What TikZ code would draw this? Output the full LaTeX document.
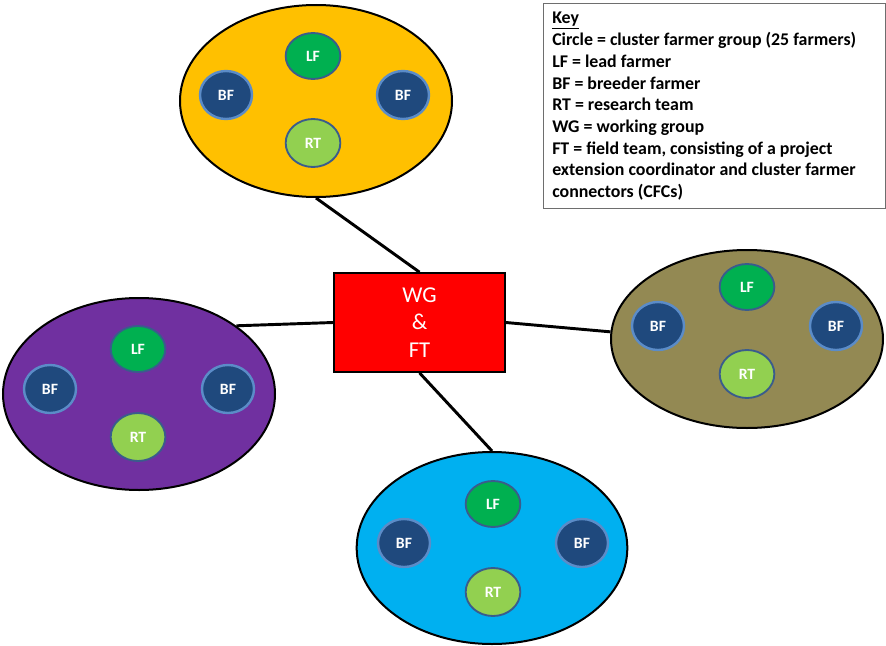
\documentclass[tikz,border=0pt]{standalone}
\usepackage{fontspec}
\setmainfont{Carlito}
\usetikzlibrary{shapes.geometric}

\definecolor{grpYellow}{HTML}{FFC000}
\definecolor{grpPurple}{HTML}{7030A0}
\definecolor{grpOlive}{HTML}{938953}
\definecolor{grpBlue}{HTML}{00B0F0}
\definecolor{hubRed}{HTML}{FF0000}
\definecolor{lfGreen}{HTML}{00B050}
\definecolor{rtGreen}{HTML}{92D050}
\definecolor{bfBlue}{HTML}{1F497D}
\definecolor{bfRim}{HTML}{5B8CC8}
\definecolor{memRim}{HTML}{3A5C8C}
\definecolor{keyRim}{HTML}{6E6E6E}

\begin{document}
\begin{tikzpicture}[x=0.75pt,y=-0.75pt,
  group/.style={ellipse, draw=black, line width=1.5pt, inner sep=0pt,
    minimum width=204pt, minimum height=144pt},
  member/.style={ellipse, inner sep=0pt, text=white,
    font=\fontsize{11.8pt}{13pt}\selectfont\bfseries},
  lead/.style={member, fill=lfGreen, draw=memRim, line width=1.4pt,
    minimum width=41pt, minimum height=34.5pt},
  breeder/.style={member, fill=bfBlue, draw=bfRim, line width=1.8pt,
    minimum width=39pt, minimum height=36pt},
  research/.style={member, fill=rtGreen, draw=memRim, line width=1.4pt,
    minimum width=41pt, minimum height=36pt},
  link/.style={draw=black, line width=2.2pt}]

\useasboundingbox (0,0) rectangle (886,646);

% cluster farmer groups
\node[group, fill=grpYellow] (top) at (316,101) {};
\node[lead]     (tLF)  at (313,56)  {LF};
\node[breeder]  (tBFa) at (226,95)  {BF};
\node[breeder]  (tBFb) at (403,95)  {BF};
\node[research] (tRT)  at (313,143) {RT};

\node[group, fill=grpPurple] (left) at (139,394) {};
\node[lead]     (lLF)  at (138,349) {LF};
\node[breeder]  (lBFa) at (50,389)  {BF};
\node[breeder]  (lBFb) at (228,389) {BF};
\node[research] (lRT)  at (138,437) {RT};

\node[group, fill=grpOlive, minimum height=133.5pt] (right) at (747,339) {};
\node[lead]     (rLF)  at (747,287) {LF};
\node[breeder]  (rBFa) at (658,326) {BF};
\node[breeder]  (rBFb) at (836,326) {BF};
\node[research] (rRT)  at (747,374) {RT};

\node[group, fill=grpBlue, minimum width=203pt] (bottom) at (492,548) {};
\node[lead]     (bLF)  at (493,504) {LF};
\node[breeder]  (bBFa) at (404,543) {BF};
\node[breeder]  (bBFb) at (582,543) {BF};
\node[research] (bRT)  at (493,592) {RT};

% working group and field team hub
\node[rectangle, draw=black, line width=1.5pt, fill=hubRed, text=white,
  minimum width=128pt, minimum height=74pt, align=center,
  font=\fontsize{17pt}{20.6pt}\selectfont] (hub) at (419.5,322.5) {WG\\\&\\FT};

% links from the hub to each group
\draw[link] (top.south) -- (hub.north);
\draw[link] (left.35) -- (hub.west);
\draw[link] (hub.east) -- (right.177);
\draw[link] (hub.south) -- (bottom.north);

% key
\node[rectangle, draw=keyRim, line width=1pt, anchor=north west,
  minimum width=256.5pt, minimum height=153.5pt] (keybox) at (543,3) {};
\node[anchor=north west, align=left, inner sep=0pt,
  font=\fontsize{13.4pt}{16.3pt}\selectfont\bfseries] (keytext) at (552,12)
  {\underline{Key}\\
   Circle = cluster farmer group (25 farmers)\\
   LF = lead farmer\\
   BF = breeder farmer\\
   RT = research team\\
   WG = working group\\
   FT = field team, consisting of a project\\
   extension coordinator and cluster farmer\\
   connectors (CFCs)};
\end{tikzpicture}
\end{document}
